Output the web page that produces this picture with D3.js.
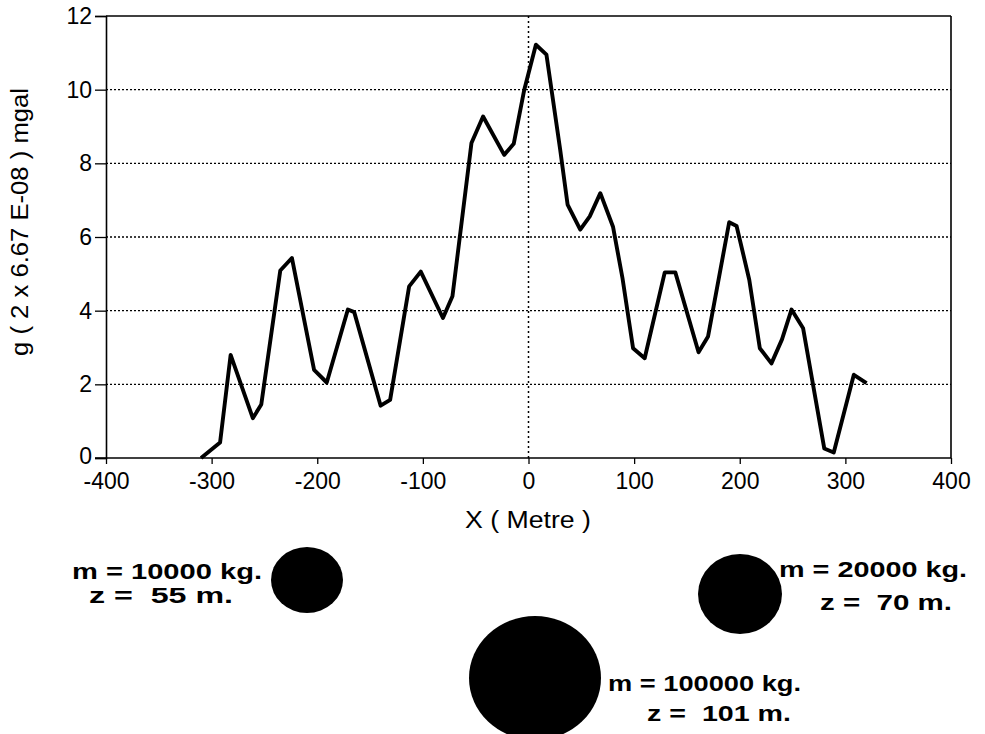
<!DOCTYPE html>
<html>
<head>
<meta charset="utf-8">
<script src="https://cdn.jsdelivr.net/npm/d3@7"></script>
<style>
    body { margin: 0; background: #fff; }
    text { font-family: "Liberation Sans", Arial, sans-serif; fill: #000; }
</style>
</head>
<body>
<svg id="chart" width="985" height="734"></svg>
<script>

// profile points
var xValues = [-310, -292, -282, -261, -253, -235, -224, -203, -191, -171,
    -165, -140, -131, -113, -102, -81, -72, -54, -43, -23,
    -14, -4, 7, 17, 30, 37, 49, 58, 68, 80,
    89, 99, 110, 129, 139, 161, 170, 190, 197, 209,
    219, 230, 240, 249, 260, 280, 289, 308, 320];
var gValues = [0, 0.42, 2.8, 1.08, 1.45, 5.09, 5.43, 2.39, 2.05, 4.03,
    3.96, 1.42, 1.58, 4.66, 5.06, 3.8, 4.39, 8.55, 9.27, 8.23,
    8.53, 10.0, 11.22, 10.95, 8.37, 6.88, 6.2, 6.56, 7.19, 6.28,
    4.88, 2.98, 2.71, 5.04, 5.04, 2.87, 3.3, 6.4, 6.3, 4.84,
    2.98, 2.57, 3.22, 4.03, 3.52, 0.26, 0.15, 2.26, 2.03];

var xTicks = [-400, -300, -200, -100, 0, 100, 200, 300, 400];
var yTicks = [0, 2, 4, 6, 8, 10, 12];

var massLabels = ["m = 10000 kg.", "m = 20000 kg.", "m = 100000 kg."];
var depthLabels = ["z =  55 m.", "z =  70 m.", "z =  101 m."];

var svg = d3.select("#chart");

var x = d3.scaleLinear().domain([-400, 400]).range([106, 951]);
var y = d3.scaleLinear().domain([0, 12]).range([458, 16]);

// dotted grid
svg.append("g").selectAll("line")
    .data(yTicks.filter(d => d > 0 && d < 12))
    .enter().append("line")
    .attr("x1", x(-400)).attr("x2", x(400))
    .attr("y1", d => y(d)).attr("y2", d => y(d))
    .attr("stroke", "#000")
    .attr("stroke-width", 1.3)
    .attr("stroke-dasharray", "2,2");

svg.append("line")
    .attr("x1", x(0)).attr("x2", x(0))
    .attr("y1", y(12)).attr("y2", y(0))
    .attr("stroke", "#000")
    .attr("stroke-width", 1.5)
    .attr("stroke-dasharray", "2,3");

// frame top + right
svg.append("line")
    .attr("x1", x(-400)).attr("x2", x(400))
    .attr("y1", y(12)).attr("y2", y(12))
    .attr("stroke", "#000").attr("stroke-width", 1.6);
svg.append("line")
    .attr("x1", x(400)).attr("x2", x(400))
    .attr("y1", y(12)).attr("y2", y(0))
    .attr("stroke", "#000").attr("stroke-width", 1.6);

var xAxis = svg.append("g")
    .attr("transform", "translate(0," + y(0) + ")")
    .call(d3.axisBottom(x).tickValues(xTicks).tickSize(6).tickPadding(6).tickFormat(d => String(d)));

var yAxis = svg.append("g")
    .attr("transform", "translate(" + x(-400) + ",0)")
    .call(d3.axisLeft(y).tickValues(yTicks).tickSize(11).tickPadding(3).tickFormat(d => String(d)));

[xAxis, yAxis].forEach(function(a) {
    a.select(".domain").attr("stroke", "#000").attr("stroke-width", 1.6);
    a.selectAll(".tick line").attr("stroke", "#000").attr("stroke-width", 1.3);
    a.selectAll(".tick text")
        .style("font-family", "'Liberation Sans', Arial, sans-serif")
        .style("font-size", "23px")
        .attr("fill", "#000");
});
xAxis.selectAll(".tick text").attr("y", 15);
// nudge the 0 label up so it clears -400
yAxis.selectAll(".tick").filter(d => d === 0).select("text").attr("y", -2);
xAxis.selectAll(".domain").attr("d", "M" + (x(-400) - 11) + ",0H" + x(400));

// the profile line
var points = xValues.map((v, i) => [v, gValues[i]]);
svg.append("path")
    .datum(points)
    .attr("fill", "none")
    .attr("stroke", "#000")
    .attr("stroke-width", 3.9)
    .attr("stroke-linejoin", "round")
    .attr("d", d3.line().x(d => x(d[0])).y(d => y(d[1])));

// axis titles
svg.append("text")
    .attr("x", 528).attr("y", 528)
    .attr("text-anchor", "middle")
    .attr("textLength", 126).attr("lengthAdjust", "spacingAndGlyphs")
    .style("font-size", "23px")
    .text("X ( Metre )");

svg.append("text")
    .attr("transform", "translate(28,222) rotate(-90)")
    .attr("text-anchor", "middle")
    .attr("textLength", 268).attr("lengthAdjust", "spacingAndGlyphs")
    .style("font-size", "23px")
    .text("g ( 2 x 6.67 E-08 ) mgal");

// buried masses
var bodies = [
    {cx: 307, cy: 580, rx: 36, ry: 33},
    {cx: 740, cy: 594, rx: 42, ry: 40},
    {cx: 535, cy: 678, rx: 66, ry: 62}
];
var labelPos = [
    {x1: 72, w1: 190, b1: 579, x2: 89, w2: 144, b2: 603},
    {x1: 779, w1: 188, b1: 577, x2: 820, w2: 132, b2: 610},
    {x1: 608, w1: 193, b1: 691, x2: 647, w2: 144, b2: 721}
];

svg.append("g").selectAll("ellipse")
    .data(bodies)
    .enter().append("ellipse")
    .attr("cx", d => d.cx).attr("cy", d => d.cy)
    .attr("rx", d => d.rx).attr("ry", d => d.ry)
    .attr("fill", "#000");

labelPos.forEach(function(p, i) {
    svg.append("text")
        .attr("x", p.x1).attr("y", p.b1)
        .attr("textLength", p.w1).attr("lengthAdjust", "spacingAndGlyphs")
        .style("font-size", "22px").style("font-weight", "bold")
        .text(massLabels[i]);
    svg.append("text")
        .attr("x", p.x2).attr("y", p.b2)
        .attr("textLength", p.w2).attr("lengthAdjust", "spacingAndGlyphs")
        .style("font-size", "22px").style("font-weight", "bold")
        .style("white-space", "pre")
        .text(depthLabels[i]);
});

</script>
</body>
</html>
